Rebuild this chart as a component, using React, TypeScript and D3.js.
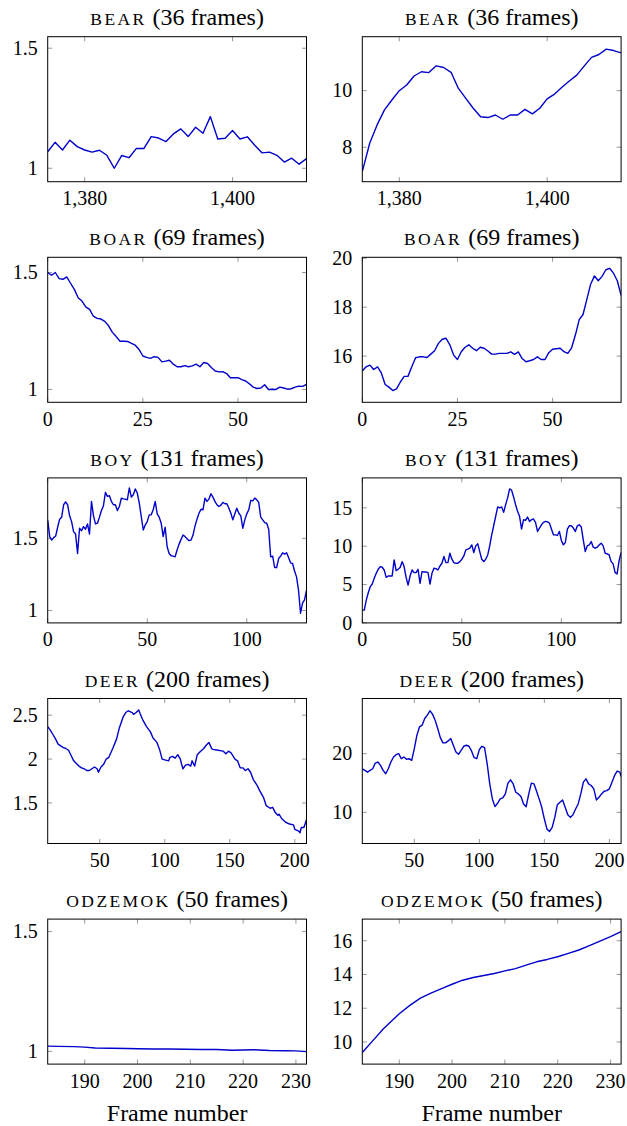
import * as d3 from "d3";

// frames on the x axis
const bearFrames = d3.range(1375, 1411);
const boarFrames = d3.range(0, 69);
const boyFrames = d3.range(0, 131);
const deerLeftFrames = [
  10, 12, 14, 16, 18, 20, 22, 24, 26, 28, 30, 32, 34, 36, 38, 40, 42, 44, 46, 48,
  49, 51, 53, 55, 57, 60, 63, 65, 68, 70, 72, 75, 76, 78, 80, 81, 83, 86, 89, 91,
  94, 96, 98, 100, 103, 104, 106, 108, 110, 112, 113, 114, 116, 118, 120, 121, 123, 125, 127, 130,
  132, 134, 136, 137, 141, 145, 147, 149, 151, 154, 156, 158, 160, 162, 164, 166, 168, 171, 173, 176,
  178, 181, 183, 185, 187, 188, 190, 193, 196, 199, 200, 203, 204, 205, 207, 209,
];
const deerRightFrames = [...d3.range(10, 209, 2), 209];
const odzemokLeftFrames = [183, 185, 188, 190, 192, 195, 198, 200, 203, 206, 209, 212, 215, 218, 220, 222, 225, 228, 230, 232];
const odzemokRightFrames = [
  183, 185, 187, 189, 190, 192, 194, 196, 198, 200, 202, 204, 206, 208, 210, 212, 214, 216, 218, 220,
  222, 224, 226, 228, 230, 232,
];

// left column series
const bearLeft = [
  1.069, 1.108, 1.076, 1.117, 1.09, 1.076, 1.067, 1.075, 1.054, 1.0, 1.053, 1.044, 1.083, 1.082, 1.132, 1.126,
  1.111, 1.143, 1.164, 1.132, 1.171, 1.146, 1.215, 1.122, 1.125, 1.157, 1.122, 1.131, 1.096, 1.064, 1.067, 1.054,
  1.026, 1.042, 1.017, 1.04,
];
const boarLeft = [
  1.5, 1.488, 1.5, 1.474, 1.471, 1.481, 1.454, 1.428, 1.392, 1.378, 1.353, 1.342, 1.313, 1.304, 1.301, 1.291,
  1.272, 1.244, 1.226, 1.206, 1.206, 1.205, 1.197, 1.189, 1.171, 1.143, 1.137, 1.133, 1.14, 1.137, 1.118, 1.121,
  1.125, 1.108, 1.097, 1.097, 1.102, 1.097, 1.101, 1.108, 1.097, 1.115, 1.111, 1.094, 1.079, 1.075, 1.076, 1.068,
  1.05, 1.05, 1.05, 1.042, 1.036, 1.024, 1.01, 1.004, 1.006, 1.02, 1.0, 1.001, 1.0, 1.01, 1.006, 1.001,
  1.003, 1.01, 1.014, 1.013, 1.022,
];
const boyLeft = [
  1.628, 1.512, 1.488, 1.505, 1.516, 1.577, 1.633, 1.647, 1.733, 1.753, 1.733, 1.656, 1.616, 1.547, 1.53, 1.395,
  1.57, 1.553, 1.581, 1.563, 1.6, 1.53, 1.756, 1.656, 1.6, 1.605, 1.647, 1.693, 1.726, 1.819, 1.791, 1.795,
  1.756, 1.733, 1.733, 1.693, 1.721, 1.779, 1.774, 1.772, 1.767, 1.849, 1.786, 1.802, 1.842, 1.814, 1.744, 1.651,
  1.558, 1.593, 1.616, 1.663, 1.663, 1.698, 1.756, 1.67, 1.647, 1.605, 1.512, 1.577, 1.442, 1.395, 1.379, 1.377,
  1.372, 1.419, 1.46, 1.493, 1.523, 1.512, 1.498, 1.484, 1.488, 1.523, 1.586, 1.633, 1.674, 1.702, 1.698, 1.779,
  1.756, 1.772, 1.809, 1.786, 1.756, 1.733, 1.721, 1.73, 1.749, 1.74, 1.74, 1.709, 1.674, 1.628, 1.67, 1.709,
  1.674, 1.656, 1.57, 1.628, 1.67, 1.698, 1.763, 1.76, 1.779, 1.767, 1.749, 1.647, 1.628, 1.609, 1.605, 1.563,
  1.372, 1.377, 1.298, 1.298, 1.36, 1.377, 1.4, 1.391, 1.4, 1.367, 1.33, 1.326, 1.274, 1.233, 1.14, 0.981,
  1.051, 1.074, 1.14,
];
const deerLeft = [
  2.37, 2.33, 2.28, 2.23, 2.17, 2.15, 2.13, 2.12, 2.1, 2.04, 1.98, 1.95, 1.92, 1.9, 1.89, 1.87, 1.87, 1.89, 1.91, 1.89,
  1.85, 1.91, 1.94, 2.0, 2.02, 2.12, 2.23, 2.35, 2.48, 2.53, 2.55, 2.53, 2.51, 2.53, 2.56, 2.52, 2.45, 2.37, 2.31, 2.24,
  2.19, 2.11, 2.0, 1.99, 1.98, 2.02, 2.03, 2.01, 2.05, 2.0, 1.94, 1.89, 1.93, 1.94, 1.92, 1.98, 1.92, 2.05, 2.08, 2.12,
  2.16, 2.19, 2.12, 2.11, 2.1, 2.09, 2.06, 2.09, 2.07, 2.0, 1.98, 1.9, 1.9, 1.87, 1.89, 1.85, 1.77, 1.7, 1.64, 1.56,
  1.47, 1.44, 1.45, 1.39, 1.36, 1.37, 1.32, 1.28, 1.26, 1.25, 1.2, 1.18, 1.16, 1.22, 1.22, 1.31,
];
const odzemokLeft = [
  1.022, 1.021, 1.02, 1.018, 1.014, 1.013, 1.012, 1.011, 1.01, 1.01, 1.009, 1.008, 1.008, 1.005, 1.006, 1.007,
  1.004, 1.003, 1.002, 0.999,
];

// right column series
const bearRight = [
  7.14, 8.14, 8.79, 9.32, 9.67, 10.0, 10.2, 10.52, 10.67, 10.64, 10.88, 10.82, 10.65, 10.08, 9.73, 9.38,
  9.08, 9.05, 9.14, 8.99, 9.14, 9.14, 9.34, 9.18, 9.38, 9.71, 9.88, 10.12, 10.34, 10.55, 10.87, 11.18,
  11.28, 11.47, 11.42, 11.34,
];
const boarRight = [
  15.39, 15.56, 15.63, 15.45, 15.56, 15.31, 14.84, 14.73, 14.59, 14.66, 14.94, 15.17, 15.17, 15.56, 15.93, 15.97,
  15.97, 15.94, 16.08, 16.22, 16.52, 16.69, 16.73, 16.46, 16.04, 15.86, 16.18, 16.36, 16.46, 16.32, 16.22, 16.36,
  16.32, 16.21, 16.08, 16.08, 16.11, 16.11, 16.11, 16.17, 16.07, 16.17, 15.9, 15.77, 15.81, 15.86, 15.97, 15.86,
  15.86, 16.14, 16.28, 16.3, 16.32, 16.18, 16.11, 16.34, 16.87, 17.49, 17.7, 18.32, 18.94, 19.28, 19.08, 19.26,
  19.53, 19.59, 19.39, 19.08, 18.48,
];
const boyRight = [
  1.66, 1.66, 2.97, 3.93, 4.72, 5.07, 5.81, 6.46, 6.99, 7.34, 7.25, 6.9, 5.94, 6.11, 6.11, 6.11,
  8.21, 6.81, 6.99, 7.21, 7.99, 7.34, 5.94, 4.93, 6.11, 6.9, 6.55, 6.55, 6.99, 5.15, 6.68, 6.64,
  6.64, 6.55, 5.07, 6.46, 7.12, 7.07, 6.9, 7.42, 7.77, 8.65, 7.86, 7.86, 9.08, 8.3, 7.86, 7.77,
  7.77, 7.99, 8.3, 8.73, 9.52, 9.61, 9.74, 10.17, 9.17, 10.04, 10.31, 9.3, 8.3, 7.99, 8.3, 8.86,
  10.04, 11.48, 12.66, 13.89, 15.11, 14.98, 15.11, 14.41, 15.41, 16.29, 17.47, 17.29, 16.42, 15.41, 14.54, 13.89,
  12.23, 13.45, 13.36, 13.8, 13.23, 13.45, 13.54, 13.1, 11.92, 12.36, 12.79, 13.1, 13.23, 13.19, 13.01, 12.23,
  11.48, 11.48, 11.4, 11.92, 10.74, 10.17, 10.48, 12.23, 12.66, 12.66, 12.36, 11.92, 12.66, 12.79, 12.49, 10.83,
  9.3, 10.04, 10.17, 10.61, 9.87, 9.74, 9.87, 10.17, 10.39, 10.04, 9.08, 9.0, 8.86, 7.99, 7.69, 6.55,
  6.38, 8.12, 9.17,
];
const deerRight = [
  17.43, 17.14, 16.86, 17.14, 17.43, 18.4, 18.57, 18.0, 17.14, 16.57,
  17.43, 18.57, 19.43, 19.83, 20.0, 19.14, 19.43, 19.03, 19.14, 18.86,
  20.86, 23.14, 24.57, 24.86, 26.0, 26.57, 27.31, 26.74, 25.71, 24.29,
  22.74, 21.83, 21.83, 22.17, 22.57, 21.43, 20.29, 19.89, 20.57, 21.26,
  21.43, 21.26, 20.46, 19.31, 19.14, 20.69, 21.26, 21.03, 18.29, 14.86,
  12.29, 10.97, 11.54, 12.29, 12.46, 13.14, 14.97, 15.54, 14.86, 13.43,
  13.14, 12.69, 11.43, 10.97, 13.14, 14.97, 14.86, 13.6, 12.29, 10.86,
  8.86, 7.14, 6.74, 7.43, 9.14, 11.31, 11.71, 12.11, 10.86, 9.6,
  9.14, 9.6, 10.57, 11.43, 13.14, 15.14, 15.71, 14.86, 14.57, 14.0,
  12.11, 12.57, 13.14, 13.6, 13.71, 14.0, 15.14, 16.29, 17.03, 16.86,
  16.11,
];
const odzemokRight = [
  9.38, 10.08, 10.78, 11.37, 11.67, 12.17, 12.6, 12.9, 13.16, 13.42, 13.66, 13.82, 13.94, 14.06, 14.21, 14.35,
  14.55, 14.75, 14.89, 15.05, 15.25, 15.45, 15.71, 15.98, 16.24, 16.54,
];

// per-row axis settings
const names = ["bear", "boar", "boy", "deer", "odzemok"];
const frameCounts = [36, 69, 131, 200, 50];
const xDomains = [[1375, 1410], [0, 68], [0, 130], [10, 209], [183, 232]];
const xTicks = [[1380, 1400], [0, 25, 50], [0, 50, 100], [50, 100, 150, 200], [190, 200, 210, 220, 230]];
const yDomainsLeft = [[0.944, 1.548], [0.945, 1.565], [0.914, 1.919], [1.038, 2.69], [0.947, 1.552]];
const yTicksLeft = [[1, 1.5], [1, 1.5], [1, 1.5], [1.5, 2, 2.5], [1, 1.5]];
const yDomainsRight = [[6.78, 11.91], [14.11, 20.04], [0, 18.9], [4.69, 29.4], [8.69, 17.28]];
const yTicksRight = [[8, 10], [16, 18, 20], [0, 5, 10, 15], [10, 20], [10, 12, 14, 16]];

const framesLeft = [bearFrames, boarFrames, boyFrames, deerLeftFrames, odzemokLeftFrames];
const framesRight = [bearFrames, boarFrames, boyFrames, deerRightFrames, odzemokRightFrames];
const valuesLeft = [bearLeft, boarLeft, boyLeft, deerLeft, odzemokLeft];
const valuesRight = [bearRight, boarRight, boyRight, deerRight, odzemokRight];

const W = 627;
const H = 1126;
const colX = [47.7, 362.3];
const plotW = 258.8;
const plotH = 145;
const rowTop = (i: number) => 36.7 + 220.6 * i;
const FONT = "Liberation Serif";
const TICK_LEN = 4.5;

type PanelProps = {
  x0: number;
  y0: number;
  title: string;
  frames: number;
  xDomain: number[];
  xTickVals: number[];
  yDomain: number[];
  yTickVals: number[];
  xs: number[];
  ys: number[];
};

const Panel = (p: PanelProps) => {
  const x = d3.scaleLinear().domain(p.xDomain).range([0, plotW]);
  const y = d3.scaleLinear().domain(p.yDomain).range([plotH, 0]);
  const xFmt = d3.format(",");
  const yFmt = d3.format("~g");
  const pts = p.xs.map((f, i) => [f, p.ys[i]] as [number, number]);
  const line = d3
    .line<[number, number]>()
    .x((d) => x(d[0]))
    .y((d) => y(d[1]));

  return (
    <g transform={`translate(${p.x0},${p.y0})`}>
      <text x={plotW / 2} y={-12} textAnchor="middle" fontFamily={FONT} fontSize={24}>
        <tspan fontSize={17.5} letterSpacing={2.4}>
          {p.title.toUpperCase()}
        </tspan>
        <tspan>{` (${p.frames} frames)`}</tspan>
      </text>
      <defs>
        <clipPath id={`clip-${p.x0}-${p.y0}`}>
          <rect x={0} y={0} width={plotW} height={plotH} />
        </clipPath>
      </defs>
      {p.xTickVals.map((t) => (
        <g key={`x${t}`}>
          <line x1={x(t)} x2={x(t)} y1={plotH} y2={plotH - TICK_LEN} stroke="#8c8c8c" strokeWidth={0.9} />
          <line x1={x(t)} x2={x(t)} y1={0} y2={TICK_LEN} stroke="#8c8c8c" strokeWidth={0.9} />
          <text x={x(t)} y={plotH + 23.5} textAnchor="middle" fontFamily={FONT} fontSize={20}>
            {xFmt(t)}
          </text>
        </g>
      ))}
      {p.yTickVals.map((t) => (
        <g key={`y${t}`}>
          <line x1={0} x2={TICK_LEN} y1={y(t)} y2={y(t)} stroke="#8c8c8c" strokeWidth={0.9} />
          <line x1={plotW} x2={plotW - TICK_LEN} y1={y(t)} y2={y(t)} stroke="#8c8c8c" strokeWidth={0.9} />
          <text x={-10} y={y(t)} dy="0.34em" textAnchor="end" fontFamily={FONT} fontSize={20}>
            {yFmt(t)}
          </text>
        </g>
      ))}
      <path
        d={line(pts) ?? ""}
        fill="none"
        stroke="#0000cc"
        strokeWidth={1.4}
        strokeLinejoin="round"
        clipPath={`url(#clip-${p.x0}-${p.y0})`}
      />
      <rect x={0} y={0} width={plotW} height={plotH} fill="none" stroke="#000" strokeWidth={1} />
    </g>
  );
};

export default function App() {
  return (
    <svg
      width={W}
      height={H}
      viewBox={`0 0 ${W} ${H}`}
      style={{ position: "absolute", left: 0, top: 0, background: "#fff" }}
    >
      <rect width={W} height={H} fill="#fff" />
      {names.map((name, i) => (
        <g key={name}>
          <Panel
            x0={colX[0]}
            y0={rowTop(i)}
            title={name}
            frames={frameCounts[i]}
            xDomain={xDomains[i]}
            xTickVals={xTicks[i]}
            yDomain={yDomainsLeft[i]}
            yTickVals={yTicksLeft[i]}
            xs={framesLeft[i]}
            ys={valuesLeft[i]}
          />
          <Panel
            x0={colX[1]}
            y0={rowTop(i)}
            title={name}
            frames={frameCounts[i]}
            xDomain={xDomains[i]}
            xTickVals={xTicks[i]}
            yDomain={yDomainsRight[i]}
            yTickVals={yTicksRight[i]}
            xs={framesRight[i]}
            ys={valuesRight[i]}
          />
        </g>
      ))}
      {colX.map((cx) => (
        <text key={cx} x={cx + plotW / 2} y={1121} textAnchor="middle" fontFamily={FONT} fontSize={24}>
          Frame number
        </text>
      ))}
    </svg>
  );
}
